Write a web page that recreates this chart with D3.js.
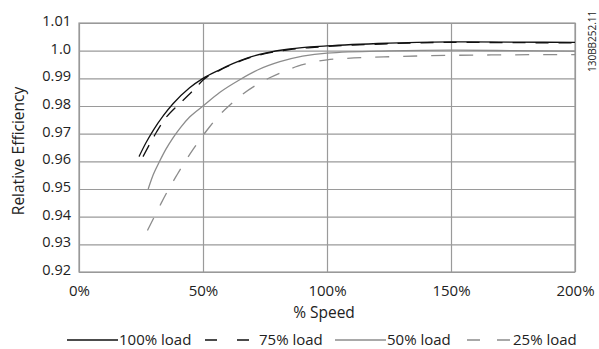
<!DOCTYPE html>
<html>
<head>
<meta charset="utf-8">
<script src="https://cdn.jsdelivr.net/npm/d3@7"></script>
<style>
  html, body { margin: 0; padding: 0; background: #fff; }
  svg { display: block; font-family: "Open Sans", sans-serif; }
</style>
</head>
<body>
<svg id="chart" width="599" height="349"></svg>
<script>
// ---- data ----
const xTicks = [0, 50, 100, 150, 200];
const xTickLabels = ["0%", "50%", "100%", "150%", "200%"];
const yTicks = [0.92, 0.93, 0.94, 0.95, 0.96, 0.97, 0.98, 0.99, 1.0, 1.01];
const yTickLabels = ["0.92", "0.93", "0.94", "0.95", "0.96", "0.97", "0.98", "0.99", "1.0", "1.01"];

const load100Speed = [24.2, 27, 30, 34, 37.9, 44.6, 50, 56.7, 62, 68, 75, 85, 100, 125, 150, 175, 200];
const load100Eff   = [0.9617, 0.9667, 0.9713, 0.9765, 0.9808, 0.9866, 0.9900, 0.9931, 0.9953, 0.9974, 0.9991, 1.0006, 1.0017, 1.0027, 1.0032, 1.0031, 1.0030];

const load75Speed = [25.8, 31.2, 34.2, 38.6, 41.9, 47.3, 50, 56.7, 62, 68, 75, 85, 100, 125, 150, 175, 200];
const load75Eff   = [0.9617, 0.9705, 0.9748, 0.9792, 0.9820, 0.9868, 0.9894, 0.9929, 0.9951, 0.9972, 0.9989, 1.0004, 1.0015, 1.0025, 1.0030, 1.0029, 1.0028];

const load50Speed = [27.9, 30, 32.5, 35, 37.9, 41, 44.6, 50, 56.7, 64.8, 72, 81, 100, 125, 150, 175, 200];
const load50Eff   = [0.9500, 0.9553, 0.9600, 0.9643, 0.9685, 0.9723, 0.9760, 0.9800, 0.9849, 0.9895, 0.9930, 0.9960, 0.9991, 0.9999, 1.0002, 1.0000, 0.9998];

const load25Speed = [27.6, 30.5, 33.2, 36, 39.3, 42, 46, 49.3, 52.7, 56.7, 61.4, 65, 71.5, 76.9, 82.9, 88.2, 94.2, 100, 108, 125, 150, 175, 200];
const load25Eff   = [0.9350, 0.9402, 0.9450, 0.9497, 0.9548, 0.9588, 0.9643, 0.9685, 0.9725, 0.9768, 0.9808, 0.9836, 0.9876, 0.9902, 0.9926, 0.9944, 0.9958, 0.9967, 0.9972, 0.9978, 0.9983, 0.9985, 0.9986];

const legendLabels = ["100% load", "75% load", "50% load", "25% load"];

// ---- chart ----
const svg = d3.select("#chart");
const pLeft = 79, pRight = 575, pTop = 23, pBottom = 272;
const x = d3.scaleLinear().domain([0, 200]).range([pLeft, pRight]);
const y = d3.scaleLinear().domain([0.92, 1.01]).range([pBottom, pTop]);

const gridColor = "#9a9a9a";
const textColor = "#222";

// y grid + labels
const yAxis = d3.axisLeft(y)
  .tickValues(yTicks)
  .tickSize(-(pRight - pLeft))
  .tickPadding(8)
  .tickFormat((d, i) => yTickLabels[i]);
const gy = svg.append("g").attr("transform", `translate(${pLeft},0)`).call(yAxis);
gy.select(".domain").remove();
gy.selectAll(".tick line").attr("stroke", gridColor).attr("stroke-width", 1.2);
gy.selectAll(".tick text").attr("font-size", 14.5).attr("fill", textColor)
  .attr("font-family", "Open Sans, sans-serif").attr("dy", "0.18em");

// x grid + labels
const xAxis = d3.axisBottom(x)
  .tickValues(xTicks)
  .tickSize(-(pBottom - pTop))
  .tickPadding(13)
  .tickFormat((d, i) => xTickLabels[i]);
const gx = svg.append("g").attr("transform", `translate(0,${pBottom})`).call(xAxis);
gx.select(".domain").remove();
gx.selectAll(".tick line").attr("stroke", gridColor).attr("stroke-width", 1.2);
gx.selectAll(".tick text").attr("font-size", 15).attr("fill", textColor)
  .attr("font-family", "Open Sans, sans-serif");

// frame
svg.append("rect")
  .attr("x", pLeft).attr("y", pTop)
  .attr("width", pRight - pLeft).attr("height", pBottom - pTop)
  .attr("fill", "none").attr("stroke", gridColor).attr("stroke-width", 1.2);

// lines
const line = d3.line().x(d => x(d[0])).y(d => y(d[1])).curve(d3.curveMonotoneX);
const series = [
  { sp: load25Speed, ef: load25Eff, color: "#8c8c8c", dash: "14,14", w: 1.3 },
  { sp: load50Speed, ef: load50Eff, color: "#8c8c8c", dash: null, w: 1.3 },
  { sp: load75Speed, ef: load75Eff, color: "#111", dash: "13,10", w: 1.3 },
  { sp: load100Speed, ef: load100Eff, color: "#111", dash: null, w: 1.3 }
];
series.forEach(s => {
  svg.append("path")
    .datum(s.sp.map((v, i) => [v, s.ef[i]]))
    .attr("d", line)
    .attr("fill", "none")
    .attr("stroke", s.color)
    .attr("stroke-width", s.w)
    .attr("stroke-dasharray", s.dash);
});

// axis titles
svg.append("text")
  .attr("x", 324).attr("y", 318)
  .attr("text-anchor", "middle")
  .attr("font-size", 15.5).attr("fill", textColor)
  .text("% Speed");

svg.append("text")
  .attr("transform", "translate(24,151) rotate(-90)")
  .attr("text-anchor", "middle")
  .attr("font-size", 15.5).attr("fill", textColor)
  .text("Relative Efficiency");

// figure code
svg.append("text")
  .attr("transform", "translate(595.5,72) rotate(-90)")
  .attr("text-anchor", "start")
  .attr("font-size", 10).attr("fill", textColor)
  .text("130BB252.11");

// legend
const legY = 340;
const legendItems = [
  { x1: 67, x2: 118, tx: 119, color: "#111", dash: null },
  { x1: 205, x2: 250, tx: 259, color: "#111", dash: "12,20" },
  { x1: 335, x2: 386, tx: 387, color: "#8c8c8c", dash: null },
  { x1: 467, x2: 510, tx: 513, color: "#8c8c8c", dash: "13,17" }
];
legendItems.forEach((it, i) => {
  svg.append("line")
    .attr("x1", it.x1).attr("x2", it.x2)
    .attr("y1", legY).attr("y2", legY)
    .attr("stroke", it.color).attr("stroke-width", 1.3)
    .attr("stroke-dasharray", it.dash);
  svg.append("text")
    .attr("x", it.tx).attr("y", 344.5)
    .attr("font-size", 15).attr("fill", textColor)
    .text(legendLabels[i]);
});
</script>
</body>
</html>
